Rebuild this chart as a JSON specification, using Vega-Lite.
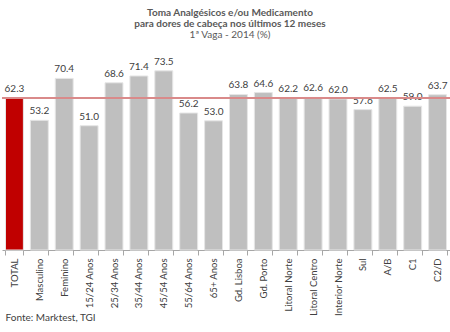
{
  "$schema": "https://vega.github.io/schema/vega-lite/v6.json",
  "width": 448,
  "height": 195,
  "autosize": {"type": "none"},
  "padding": {"left": 2, "top": 55, "right": 0, "bottom": 82},
  "background": "white",
  "config": {"view": {"stroke": null}, "font": "Lato"},
  "title": {
    "text": ["Toma Analgésicos e/ou Medicamento", "para dores de cabeça nos últimos 12 meses"],
    "subtitle": "1ª Vaga - 2014 (%)",
    "fontSize": 10,
    "fontWeight": "bold",
    "color": "#595959",
    "subtitleFontSize": 10,
    "subtitleColor": "#595959",
    "subtitlePadding": 1,
    "lineHeight": 11,
    "subtitleLineHeight": 11,
    "anchor": "middle",
    "dx": 4,
    "offset": 15,
    "font": "Lato",
    "subtitleFont": "Lato"
  },
  "data": {
    "values": [
      {"cat": "TOTAL", "v": 62.3, "total": "y"},
      {"cat": "Masculino", "v": 53.2, "total": "n"},
      {"cat": "Feminino", "v": 70.4, "total": "n"},
      {"cat": "15/24 Anos", "v": 51.0, "total": "n"},
      {"cat": "25/34 Anos", "v": 68.6, "total": "n"},
      {"cat": "35/44 Anos", "v": 71.4, "total": "n"},
      {"cat": "45/54 Anos", "v": 73.5, "total": "n"},
      {"cat": "55/64 Anos", "v": 56.2, "total": "n"},
      {"cat": "65+ Anos", "v": 53.0, "total": "n"},
      {"cat": "Gd. Lisboa", "v": 63.8, "total": "n"},
      {"cat": "Gd. Porto", "v": 64.6, "total": "n"},
      {"cat": "Litoral Norte", "v": 62.2, "total": "n"},
      {"cat": "Litoral Centro", "v": 62.6, "total": "n"},
      {"cat": "Interior Norte", "v": 62.0, "total": "n"},
      {"cat": "Sul", "v": 57.6, "total": "n"},
      {"cat": "A/B", "v": 62.5, "total": "n"},
      {"cat": "C1", "v": 59.0, "total": "n"},
      {"cat": "C2/D", "v": 63.7, "total": "n"}
    ]
  },
  "encoding": {
    "x": {
      "field": "cat",
      "type": "nominal",
      "sort": null,
      "scale": {"paddingInner": 0.28, "paddingOuter": 0.14},
      "axis": {
        "labelAngle": -90,
        "labelFontSize": 9.5,
        "labelColor": "#404040",
        "labelPadding": 3,
        "tickBand": "extent",
        "tickSize": 5,
        "tickColor": "#a6a6a6",
        "domainColor": "#a6a6a6",
        "title": "Fonte: Marktest, TGI",
        "titleFontSize": 10,
        "titleFontWeight": "normal",
        "titleColor": "#404040",
        "titleAnchor": "start",
        "titleAlign": "left",
        "titleX": 3,
        "titleY": 62
      }
    },
    "y": {
      "field": "v",
      "type": "quantitative",
      "scale": {"domain": [0, 80], "nice": false},
      "axis": null
    }
  },
  "layer": [
    {
      "mark": {"type": "bar", "stroke": "#e6e6e6", "strokeWidth": 1},
      "encoding": {
        "color": {
          "field": "total",
          "type": "nominal",
          "scale": {"domain": ["y", "n"], "range": ["#c00000", "#bfbfbf"]},
          "legend": null
        }
      }
    },
    {
      "mark": {"type": "text", "dy": -9, "fontSize": 10, "color": "#404040"},
      "encoding": {"text": {"field": "v", "type": "quantitative", "format": ".1f"}}
    },
    {
      "mark": {"type": "rule", "color": "#d98a8a", "strokeWidth": 1.5},
      "encoding": {"y": {"datum": 62.3}, "x": {"value": 0}, "x2": {"value": 448}}
    }
  ]
}
